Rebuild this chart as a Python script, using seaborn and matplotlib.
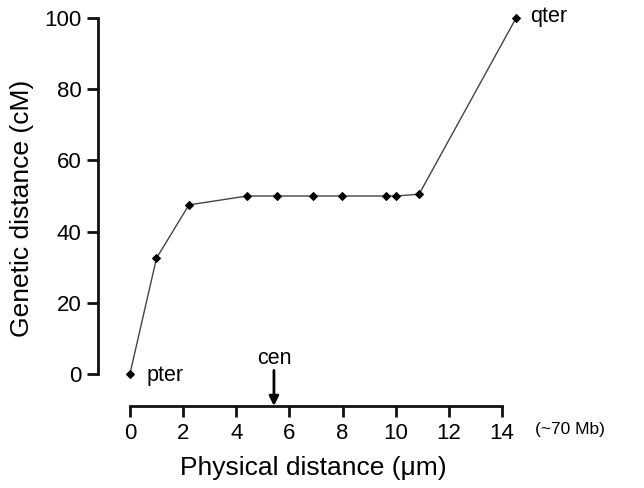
import matplotlib.pyplot as plt
import numpy as np
import pandas as pd
import seaborn as sns

# Physical position (um) vs genetic position (cM)
fisica = [0.0, 1.0, 2.22, 4.41, 5.52, 6.90, 7.99, 9.63, 10.01, 10.88, 14.53]
genetica = [0.0, 32.5, 47.5, 50.0, 50.0, 50.0, 50.0, 50.0, 50.0, 50.5, 100.0]
ticks_x = [0, 2, 4, 6, 8, 10, 12, 14]
ticks_y = [0, 20, 40, 60, 80, 100]
centromero = 5.42

sns.set_style("ticks")
plt.rcParams['font.family'] = ['Liberation Sans', 'DejaVu Sans']
plt.rcParams['text.color'] = "black"
plt.rcParams['axes.labelcolor'] = "black"
plt.rcParams['xtick.labelcolor'] = "black"
plt.rcParams['ytick.labelcolor'] = "black"

df = pd.DataFrame({"fisica": fisica, "genetica": genetica})

fig = plt.figure(figsize=(6.44, 4.88), dpi=100)
ax = fig.add_axes([98 / 644, 1 - 406 / 488, 0.6686, 0.8096])

sns.lineplot(x="fisica", y="genetica", data=df, ax=ax, color="#444444", linewidth=1.0,
             marker="D", markersize=4, markerfacecolor="black", markeredgecolor="black")

ax.set_xlim(-1.2, 15)
ax.set_ylim(-9, 102)
ax.spines['top'].set_visible(False)
ax.spines['right'].set_visible(False)
ax.spines['left'].set_bounds(0, 100)
ax.spines['bottom'].set_bounds(0, 14)
for s in ['left', 'bottom']:
    ax.spines[s].set_linewidth(2)
    ax.spines[s].set_color("#111111")

ax.set_xticks(ticks_x)
ax.set_yticks(ticks_y)
ax.tick_params(axis='both', width=2, length=8, labelsize=16, color="#111111", pad=4)
ax.set_xlabel("Physical distance (μm)", fontsize=19, labelpad=9)
ax.set_ylabel("Genetic distance (cM)", fontsize=19, labelpad=7)

ax.text(0.63, -0.5, "pter", fontsize=15.5, ha="left", va="center")
ax.text(15.05, 100.3, "qter", fontsize=15.5, ha="left", va="center")
ax.text(centromero, 1.3, "cen", fontsize=15.5, ha="center", va="bottom")
ax.annotate("", xy=(centromero, -9), xytext=(centromero, 1.0),
            arrowprops=dict(arrowstyle="-|>", color="black", lw=2, mutation_scale=14,
                            shrinkA=0, shrinkB=0))
ax.text(15.25, -15.7, "(~70 Mb)", fontsize=12.5, ha="left", va="center", clip_on=False)

plt.savefig("out.png", dpi=100)
